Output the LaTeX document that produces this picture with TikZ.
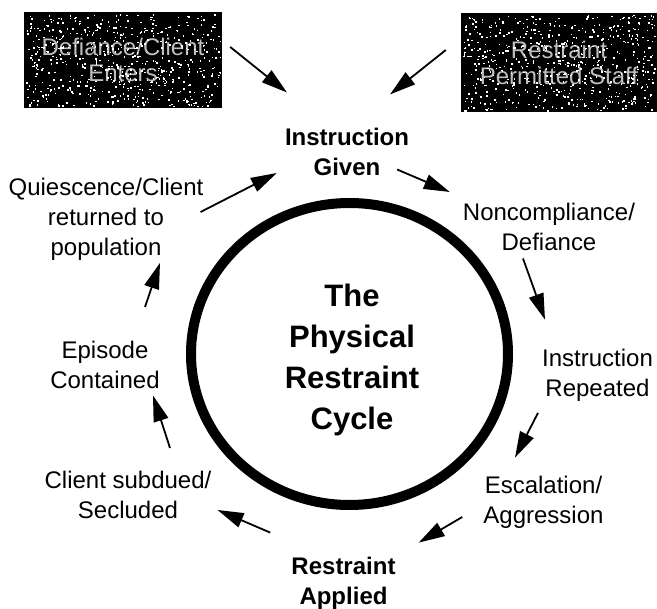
\documentclass[tikz,border=0pt]{standalone}
\usepackage{fontspec}
\setmainfont{Liberation Sans}
\usetikzlibrary{arrows.meta,calc}

\tikzset{
  lbl/.style={align=center, inner sep=0pt, font=\fontsize{24}{30}\selectfont},
  boldlbl/.style={lbl, font=\fontsize{24}{30}\selectfont\bfseries},
  darkbox/.style={fill=black, inner sep=0pt, align=center, text=white!75!black,
    font=\fontsize{24}{26}\selectfont},
  arr/.style={line width=1.8pt, -{Triangle[length=26pt,width=15pt]}}
}

\begin{document}
\begin{tikzpicture}[x=1pt, y=-1pt]
    \useasboundingbox (0,0) rectangle (657,609);

    % Dark boxes at the top
    \node[darkbox, minimum width=198pt, minimum height=96pt] (client) at (123,60) {Defiance/Client\\Enters};
    \node[darkbox, minimum width=196pt, minimum height=99pt] (staff) at (559,62.5) {Restraint\\Permitted Staff};

    % Speckle over the boxes
    \pgfmathsetseed{42}
    \foreach \b/\w/\h in {client/97/46, staff/96/48}
      \foreach \i in {1,...,600}
        \fill[white] ($(\b.center)+(rand*\w,rand*\h)$) rectangle ++(1.5,1.5);

    % The cycle ring and its title
    \draw[line width=10pt] (349.5,354) ellipse [x radius=158.5pt, y radius=151pt];
    \node[align=center, inner sep=0pt, font=\fontsize{31}{41}\selectfont\bfseries] (title) at (352,359.5)
      {The\\Physical\\Restraint\\Cycle};

    % Steps round the ring
    \node[boldlbl] (inst) at (347,151.5) {Instruction\\Given};
    \node[lbl] (nonc) at (549,227) {Noncompliance/\\Defiance};
    \node[lbl] (rep) at (597.5,375) {Instruction\\Repeated};
    \node[lbl] (esc) at (543.5,502) {Escalation/\\Aggression};
    \node[boldlbl] (app) at (343.5,583) {Restraint\\Applied};
    \node[lbl] (sub) at (128,495) {Client subdued/\\Secluded};
    \node[lbl] (epi) at (105,365) {Episode\\Contained};
    \node[lbl] (qui) at (106,219) {Quiescence/Client\\returned to\\population};

    % Arrows
    \draw[arr] ([shift={(8,-13)}]client.east) -- ([shift={(-60,-35)}]inst.north);
    \draw[arr] ([shift={(-15,-12.5)}]staff.west) -- ([shift={(43,-33)}]inst.north);
    \draw[arr] ([shift={(-12,-6)}]inst.south east) -- ([shift={(-13,-11)}]nonc.north west);
    \draw[arr] ([shift={(-26,7.5)}]nonc.south) -- ([shift={(-52.5,-29)}]rep.north);
    \draw[arr] ([shift={(-59.5,11.5)}]rep.south) -- ([shift={(-28.5,-18)}]esc.north);
    \draw[arr] ([shift={(-21,15)}]esc.west) -- ([shift={(23,-14)}]app.north east);
    \draw[arr] ([shift={(-21,-24)}]app.north west) -- ([shift={(6,15)}]sub.east);
    \draw[arr] ([shift={(42,-23)}]sub.north) -- ([shift={(48,6.5)}]epi.south);
    \draw[arr] ([shift={(40,-34)}]epi.north) -- ([shift={(54,2.5)}]qui.south);
    \draw[arr] ([shift={(-3,-7)}]qui.east) -- ([shift={(-8,21.5)}]inst.west);

\end{tikzpicture}
\end{document}
